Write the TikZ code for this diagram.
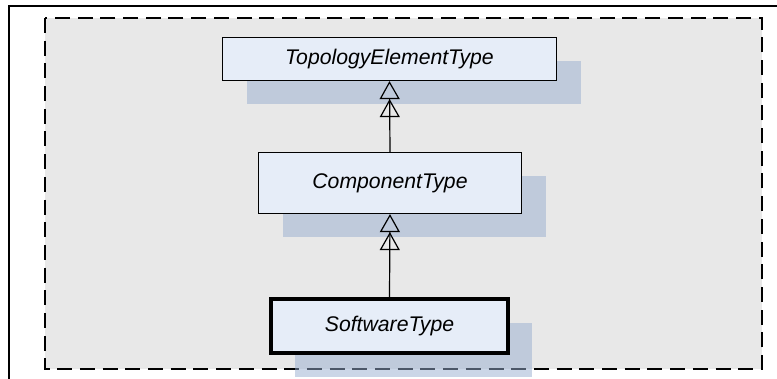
\documentclass[tikz,border=0pt]{standalone}
\usepackage{fontspec}
\setmainfont{Liberation Sans}
\usepackage{xcolor}
\usepackage{tikz}
\usetikzlibrary{positioning,arrows.meta,shadows}

\definecolor{panelgray}{RGB}{232,232,232}
\definecolor{boxblue}{RGB}{230,237,248}
\definecolor{shadowblue}{RGB}{152,174,208}

\tikzset{
    classbox/.style={draw, line width=1.2pt, fill=boxblue, inner sep=0pt,
        font=\fontsize{21.2}{24}\selectfont\itshape,
        drop shadow={shadow xshift=24pt, shadow yshift=-24pt, fill=shadowblue, opacity=0.5}},
    inherit/.style={line width=1.2pt,
        -{Triangle[open,length=18pt,width=20pt]Triangle[open,length=18pt,width=20pt]}}
}

\begin{document}
\begin{tikzpicture}[x=1pt,y=-1pt]
    \useasboundingbox (0,0) rectangle (777,379);
    % outer frame
    \draw[line width=1.3pt] (9,379) -- (9,6) -- (777,6);
    % dashed panel
    \fill[panelgray] (45,18) rectangle (762,369);
    \draw[line width=1.8pt, dash pattern=on 15pt off 7.7pt] (45,18) rectangle (762,369);

    % classes
    \node[classbox, minimum width=334pt, minimum height=43pt] (topo) at (389.5,59) {TopologyElementType};
    \node[classbox, minimum width=263pt, minimum height=61pt] (comp) at (390,183) {ComponentType};
    \node[classbox, line width=4pt, minimum width=237pt, minimum height=54pt] (soft) at (389.5,326) {SoftwareType};

    % generalisation
    \draw[inherit] (comp.north) -- (topo.south);
    \draw[inherit] (soft.north) -- (comp.south);
\end{tikzpicture}
\end{document}
